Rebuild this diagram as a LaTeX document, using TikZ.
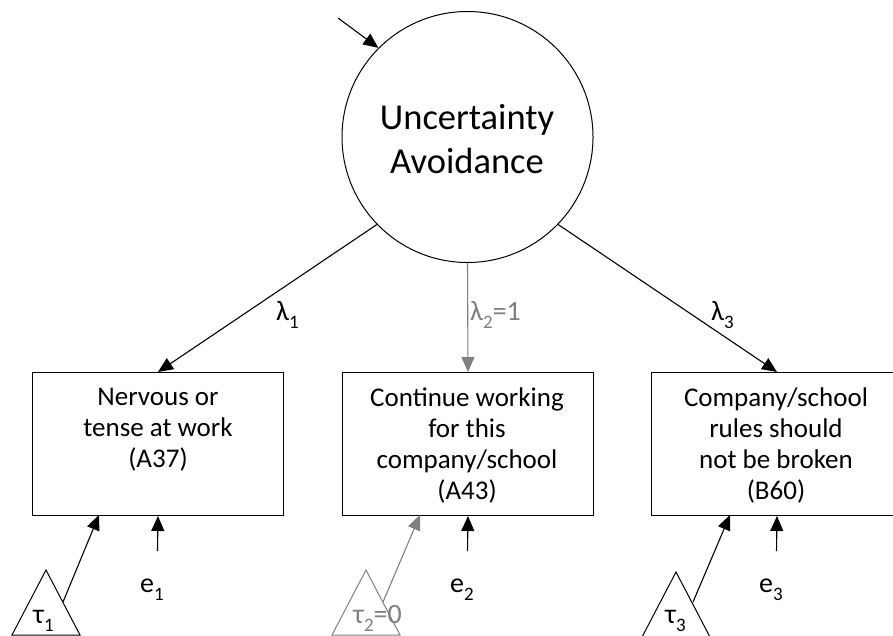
\documentclass[tikz,border=0pt]{standalone}
\usepackage{fontspec}
\setmainfont{Carlito}
\usetikzlibrary{arrows.meta}
\definecolor{fixgray}{RGB}{128,128,128}
\newcommand{\sbs}[2][19]{\raisebox{-0.32em}{\fontsize{#1}{#1}\selectfont #2}}
\tikzset{
  conn/.style={line width=1.1pt,-{Triangle[length=15pt,width=13pt]}},
  itembox/.style={draw,line width=1pt,minimum width=251pt,minimum height=143pt,anchor=north west,inner sep=0pt},
  boxtext/.style={font=\fontsize{27}{31}\selectfont,align=center,anchor=north,inner sep=0pt},
  lab/.style={font=\fontsize{28}{30}\selectfont,inner sep=0pt,anchor=base west},
  tri/.style={line width=1pt},
}
\begin{document}
\begin{tikzpicture}[x=1pt,y=-1pt]
\clip (0,0) rectangle (893,636);
% latent
\node[circle,draw,line width=1pt,minimum size=251pt,inner sep=0pt] (UA) at (467.5,137) {};
\node[font=\fontsize{36.5}{44}\selectfont,align=center,inner sep=0pt] (UAt) at (467,139) {Uncertainty\\Avoidance};
\coordinate (dist) at (338,18);
\draw[conn] (dist) -- (UA.135);
% boxes
\node[itembox] (b1) at (32,372) {};
\node[itembox] (b2) at (342,372) {};
\node[itembox] (b3) at (651,372) {};
\node[boxtext] (t1) at (158,388) {Nervous or\\tense at work\\(A37)};
\node[boxtext] (t2) at (467,388) {Continue working\\for this\\company/school\\(A43)};
\node[boxtext] (t3) at (776,388) {Company/school\\rules should\\not be broken\\(B60)};
% loadings
\draw[conn] (UA.-136) -- (b1.north);
\draw[conn,draw=fixgray,-{Triangle[length=15pt,width=13pt,fill=fixgray]}] (UA.south) -- (b2.north);
\draw[conn] (UA.-44) -- (b3.north);
\node[lab] (l1) at (276,320) {λ\sbs{1}};
\node[lab,text=fixgray] (l2) at (470,320) {λ\sbs{2}=1};
\node[lab] (l3) at (711,320) {λ\sbs{3}};
% errors
\coordinate (e1s) at (157.5,551);
\coordinate (e2s) at (467.5,551);
\coordinate (e3s) at (776.5,551);
\draw[conn] (e1s) -- (b1.south);
\draw[conn] (e2s) -- (b2.south);
\draw[conn] (e3s) -- (b3.south);
\node[lab] (e1) at (140,592) {e\sbs{1}};
\node[lab] (e2) at (450,592) {e\sbs{2}};
\node[lab] (e3) at (759,592) {e\sbs{3}};
% intercept triangles
\draw[tri] (46,570) coordinate (T1) -- (80,635) -- (12,635) -- cycle;
\draw[tri,draw=fixgray] (366,570) coordinate (T2) -- (400,635) -- (332,635) -- cycle;
\draw[tri] (676,572) coordinate (T3) -- (711,639) -- (641,639) -- cycle;
\coordinate (T1s) at (63,602);
\coordinate (T2s) at (383,602);
\coordinate (T3s) at (693,602);
\coordinate (b1t) at (99,515);
\coordinate (b2t) at (420,515);
\coordinate (b3t) at (730,515);
\draw[conn] (T1s) -- (b1t);
\draw[conn,draw=fixgray,-{Triangle[length=15pt,width=13pt,fill=fixgray]}] (T2s) -- (b2t);
\draw[conn] (T3s) -- (b3t);
\node[lab] (tau1) at (33,623) {τ\sbs{1}};
\node[lab,text=fixgray] (tau2) at (353,623) {τ\sbs{2}=0};
\node[lab] (tau3) at (665,623) {τ\sbs{3}};
\end{tikzpicture}
\end{document}
